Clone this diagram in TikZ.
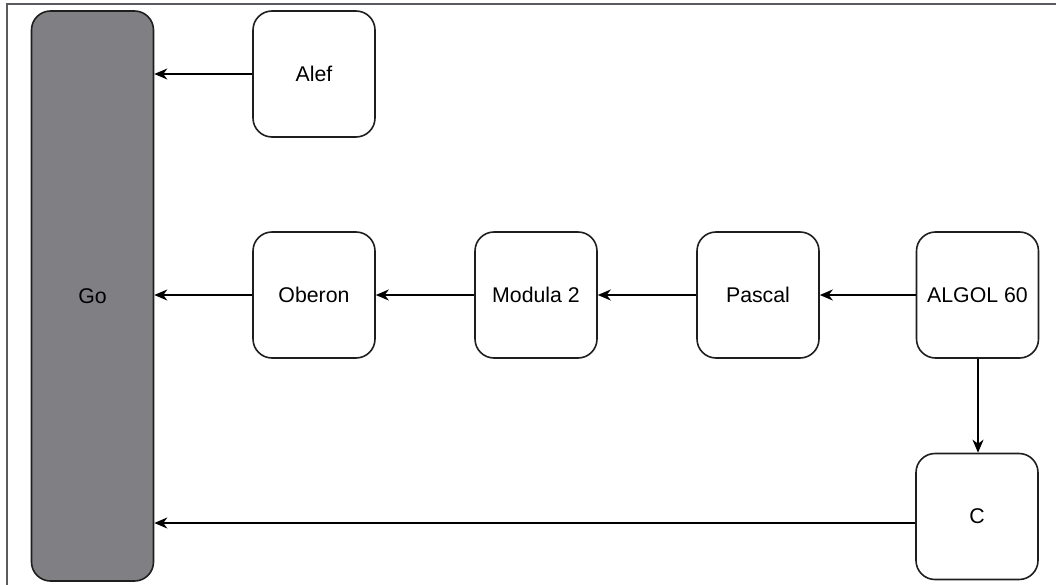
\documentclass[tikz,border=0pt]{standalone}
\usepackage{fontspec}
\setmainfont{Liberation Sans}
\usetikzlibrary{arrows.meta}
\definecolor{gofill}{RGB}{128,128,132}
\definecolor{edgecol}{RGB}{30,30,30}
\definecolor{framecol}{RGB}{90,90,95}
\begin{document}
\begin{tikzpicture}[x=1pt,y=-1pt,
  box/.style={draw=edgecol,line width=1.6pt,rounded corners=19pt,fill=white,
    minimum width=122pt,minimum height=126pt,inner sep=0pt,
    font=\fontsize{21.3}{25}\selectfont},
  conn/.style={draw=black,line width=1.6pt,-{Stealth[length=13pt,width=11pt,inset=4pt]}}]
\useasboundingbox (0,0) rectangle (1056,585);
\draw[framecol,line width=1.5pt] (7,600) -- (7,4) -- (1070,4);
\node[box,fill=gofill,minimum height=570pt] (go) at (92.5,296) {Go};
\node[box] (alef) at (314,74) {Alef};
\node[box] (oberon) at (314,295) {Oberon};
\node[box] (modula) at (536,295) {Modula 2};
\node[box] (pascal) at (758,295) {Pascal};
\node[box] (algol) at (977.5,295) {ALGOL 60};
\node[box] (c) at (977,516.5) {C};
\draw[conn] (alef.west) -- (alef.west -| go.east);
\draw[conn] (oberon) -- (go.east |- oberon);
\draw[conn] (modula) -- (oberon);
\draw[conn] (pascal) -- (modula);
\draw[conn] (algol) -- (pascal);
\draw[conn] (algol.south -| 978,0) -- (c.north -| 978,0);
\draw[conn] (c.west |- 0,523) -- (go.east |- 0,523);
\end{tikzpicture}
\end{document}
